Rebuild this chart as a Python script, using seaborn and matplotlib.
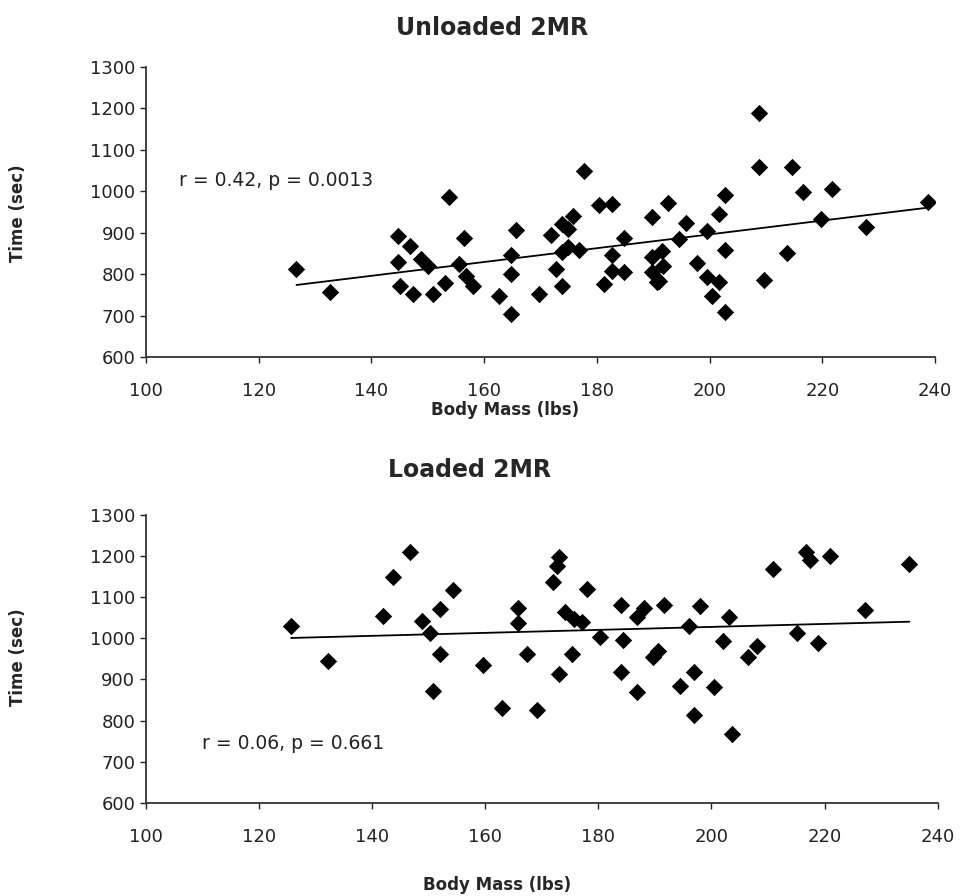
import numpy as np
import matplotlib
matplotlib.use("Agg")
import matplotlib.pyplot as plt
import seaborn as sns

# Unloaded 2MR: body mass (lbs) vs time (sec)
unloaded_mass = [126.7, 132.7, 144.7, 144.7, 145.0, 146.8, 147.4, 148.8, 150.0, 150.9,
                 153.0, 153.7, 155.6, 156.5, 156.8, 158.0, 162.7, 164.8, 164.8, 164.8,
                 165.7, 169.8, 171.9, 172.8, 173.9, 173.9, 173.9, 174.8, 174.8, 175.7,
                 176.9, 177.8, 180.4, 181.3, 182.7, 182.7, 182.7, 184.9, 184.9, 189.8,
                 189.8, 189.8, 190.7, 191.6, 191.1, 191.7, 192.7, 194.5, 195.8, 197.7,
                 199.6, 199.6, 200.5, 201.7, 201.7, 202.7, 202.7, 202.7, 208.7, 208.7,
                 209.7, 213.7, 214.6, 216.6, 219.7, 221.7, 227.7, 238.8]
unloaded_time = [812, 758, 893, 828, 771, 867, 751, 837, 820, 751,
                 778, 987, 824, 888, 796, 771, 746, 847, 800, 704,
                 907, 751, 895, 812, 922, 853, 771, 910, 866, 941,
                 857, 1048, 967, 776, 968, 846, 808, 887, 806, 937,
                 841, 805, 780, 856, 784, 820, 971, 885, 924, 827,
                 904, 792, 747, 946, 781, 990, 859, 708, 1190, 1058,
                 786, 850, 1058, 999, 932, 1006, 914, 975]

# Loaded 2MR
loaded_mass = [125.7, 132.3, 141.9, 143.7, 146.8, 148.8, 150.2, 150.8, 152.0, 152.0,
               154.4, 159.6, 163.0, 165.9, 165.9, 167.4, 169.1, 172.0, 172.7, 173.0,
               173.0, 174.2, 175.4, 175.7, 177.2, 178.0, 180.3, 184.0, 184.3, 184.0,
               186.9, 186.9, 188.1, 189.6, 190.5, 191.7, 194.5, 196.1, 197.0, 197.0,
               197.9, 200.5, 202.1, 203.2, 203.6, 206.4, 208.1, 210.9, 215.1, 216.8,
               217.4, 218.9, 221.0, 227.1, 235.0]
loaded_time = [1029, 946, 1054, 1149, 1211, 1043, 1013, 872, 1071, 961,
               1118, 935, 830, 1074, 1037, 963, 826, 1136, 1175, 1199,
               912, 1064, 961, 1048, 1040, 1121, 1004, 1082, 995, 919,
               1053, 869, 1074, 954, 970, 1080, 885, 1031, 919, 813,
               1079, 882, 994, 1052, 766, 954, 981, 1168, 1014, 1211,
               1191, 988, 1200, 1068, 1180]

x_ticks = [100, 120, 140, 160, 180, 200, 220, 240]
y_ticks = [600, 700, 800, 900, 1000, 1100, 1200, 1300]

sns.set_style("ticks")
plt.rcParams['font.family'] = ['DejaVu Sans']

fig = plt.figure(figsize=(9.63, 8.96), dpi=100)
ax1 = fig.add_axes([0.1516, 0.6016, 0.8193, 0.3237])
ax2 = fig.add_axes([0.1513, 0.1041, 0.8224, 0.3211])

for ax, xs, ys in [(ax1, unloaded_mass, unloaded_time), (ax2, loaded_mass, loaded_time)]:
    sns.regplot(x=np.array(xs), y=np.array(ys), ax=ax, ci=None, marker='D',
                scatter_kws={'s': 78, 'color': 'black', 'alpha': 1, 'linewidths': 0},
                line_kws={'color': 'black', 'lw': 1.3})
    ax.set_xlim(100, 240)
    ax.set_ylim(600, 1300)
    ax.set_xticks(x_ticks)
    ax.set_yticks(y_ticks)
    ax.tick_params(axis='both', labelsize=13, length=4, width=1, colors='#222222')
    ax.tick_params(axis='x', pad=14)
    sns.despine(ax=ax)
    for s in ['left', 'bottom']:
        ax.spines[s].set_color('#333333')
        ax.spines[s].set_linewidth(1.3)
    ax.set_xlabel('')
    ax.set_ylabel('')

ax1.text(105.8, 1025, 'r = 0.42, p = 0.0013', fontsize=13.5, va='center', color='#222222')
ax2.text(110.0, 745, 'r = 0.06, p = 0.661', fontsize=13.5, va='center', color='#222222')

fig.text(0.511, 0.969, 'Unloaded 2MR', ha='center', va='center', fontsize=17, fontweight='bold')
fig.text(0.488, 0.4755, 'Loaded 2MR', ha='center', va='center', fontsize=17, fontweight='bold')
fig.text(0.524, 0.5424, 'Body Mass (lbs)', ha='center', va='center', fontsize=12, fontweight='bold')
fig.text(0.516, 0.0123, 'Body Mass (lbs)', ha='center', va='center', fontsize=12, fontweight='bold')
fig.text(0.019, 0.762, 'Time (sec)', ha='center', va='center', rotation=90, fontsize=12, fontweight='bold')
fig.text(0.019, 0.267, 'Time (sec)', ha='center', va='center', rotation=90, fontsize=12, fontweight='bold')

fig.savefig('out.png', dpi=100)
